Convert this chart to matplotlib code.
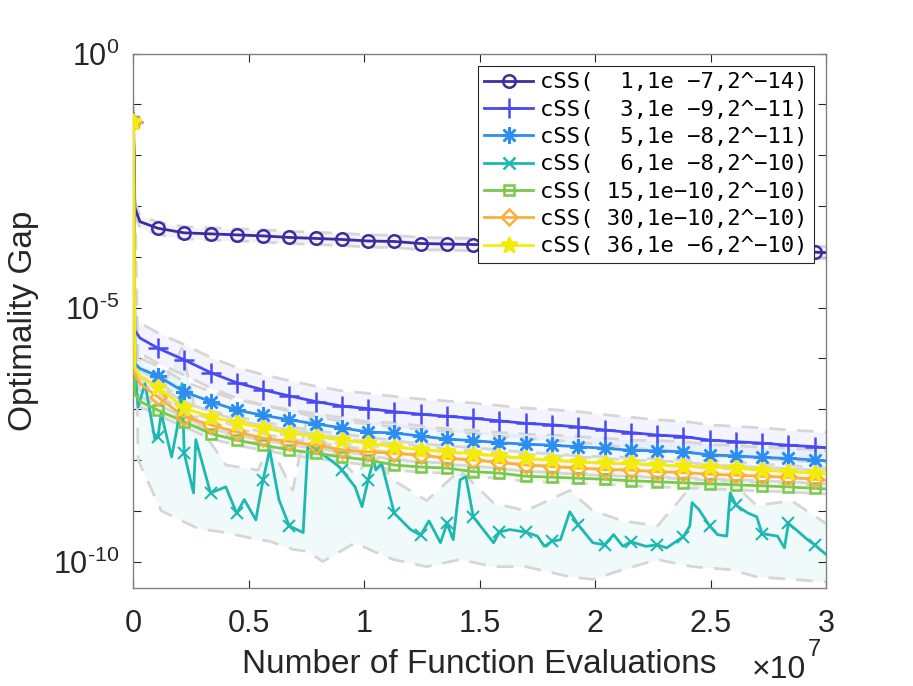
import matplotlib
matplotlib.use("Agg")
import matplotlib.pyplot as plt
from matplotlib.lines import Line2D
import numpy as np

plt.rcParams['font.family'] = ['Liberation Sans', 'DejaVu Sans']
plt.rcParams['mathtext.fontset'] = 'custom'
plt.rcParams['mathtext.rm'] = 'Liberation Sans'

# x in units of 1e7 function evaluations; y stored as log10 of the gap
x_head = [0, 0.006, 0.028]
x_mark = [0.106, 0.22, 0.334, 0.447, 0.561, 0.675, 0.789, 0.903, 1.016, 1.13,
          1.244, 1.358, 1.472, 1.585, 1.699, 1.813, 1.927, 2.041, 2.154, 2.268,
          2.382, 2.496, 2.61, 2.723, 2.837, 2.951]
x_tail = [3.0]

labels = ["cSS(  1,1e \u22127,2^\u221214)", "cSS(  3,1e \u22129,2^\u221211)",
          "cSS(  5,1e \u22128,2^\u221211)", "cSS(  6,1e \u22128,2^\u221210)",
          "cSS( 15,1e\u221210,2^\u221210)", "cSS( 30,1e\u221210,2^\u221210)",
          "cSS( 36,1e \u22126,2^\u221210)"]

s1 = [-1.35, -3.04, -3.31,
      -3.44, -3.53, -3.55, -3.57, -3.59, -3.62, -3.64, -3.66, -3.69, -3.70, -3.74, -3.75, -3.76,
      -3.77, -3.78, -3.79, -3.80, -3.81, -3.83, -3.84, -3.85, -3.86, -3.87, -3.88, -3.89, -3.91,
      -3.92]
s2 = [-1.35, -5.45, -5.6,
      -5.8, -6.03, -6.28, -6.48, -6.62, -6.74, -6.85, -6.94, -6.99, -7.05, -7.1, -7.14, -7.18,
      -7.23, -7.28, -7.31, -7.35, -7.41, -7.46, -7.51, -7.54, -7.61, -7.64, -7.67, -7.71, -7.74,
      -7.76]
s3 = [-1.35, -6.1, -6.2,
      -6.35, -6.66, -6.85, -7.02, -7.12, -7.21, -7.29, -7.37, -7.45, -7.47, -7.53, -7.59, -7.62,
      -7.66, -7.69, -7.71, -7.74, -7.77, -7.81, -7.82, -7.84, -7.9, -7.92, -7.95, -7.97, -8.0,
      -8.02]
s5 = [-1.35, -6.7, -6.85,
      -7.02, -7.25, -7.48, -7.61, -7.71, -7.8, -7.87, -7.94, -8.0, -8.1, -8.14, -8.16, -8.23,
      -8.26, -8.32, -8.34, -8.36, -8.38, -8.41, -8.43, -8.45, -8.47, -8.49, -8.51, -8.53, -8.56,
      -8.57]
s6 = [-1.35, -6.3, -6.5,
      -6.76, -7.15, -7.31, -7.45, -7.57, -7.64, -7.71, -7.8, -7.84, -7.87, -7.9, -7.97, -8.0,
      -8.05, -8.1, -8.13, -8.16, -8.19, -8.2, -8.23, -8.25, -8.28, -8.3, -8.32, -8.34, -8.38,
      -8.4]
s7 = [-1.35, -6.2, -6.35,
      -6.56, -6.98, -7.15, -7.27, -7.37, -7.47, -7.54, -7.61, -7.67, -7.74, -7.8, -7.84, -7.88,
      -7.92, -7.97, -8.0, -8.04, -8.06, -8.07, -8.1, -8.12, -8.14, -8.16, -8.2, -8.23, -8.26,
      -8.28]

# band half widths (decades above / below the mean curve)
band_up = [0.12, 0.3, 0.2, None, 0.1, 0.12, 0.12]
band_dn = [0.12, 0.3, 0.2, None, 0.1, 0.12, 0.12]

# noisy run (teal)
teal_x = [0, 0.006, 0.02, 0.05, 0.093, 0.106, 0.12, 0.165, 0.19, 0.21, 0.22, 0.26, 0.27, 0.31,
          0.334, 0.4, 0.447, 0.48, 0.53, 0.561, 0.59, 0.63, 0.675, 0.735, 0.755, 0.789,
          0.815, 0.89, 0.903, 0.96, 0.99, 1.016, 1.04, 1.05, 1.075, 1.13, 1.2, 1.244, 1.28,
          1.33, 1.358, 1.385, 1.415, 1.44, 1.472, 1.515, 1.56, 1.585, 1.63, 1.699, 1.75, 1.78,
          1.813, 1.85, 1.89, 1.927, 1.99, 2.041, 2.08, 2.12, 2.154, 2.22, 2.268, 2.31, 2.382,
          2.41, 2.42, 2.45, 2.496, 2.53, 2.57, 2.585, 2.61, 2.66, 2.7, 2.723, 2.79, 2.82,
          2.837, 2.87, 2.92, 2.951, 3.0]
teal_y = [-1.35, -6.2, -6.96, -6.5, -7.6, -7.55, -7.08, -7.94, -7.35, -6.5, -7.87, -8.65, -7.6,
          -8.26, -8.65, -8.53, -9.05, -8.78, -9.18, -8.4, -7.8, -8.78, -9.3, -9.43, -7.75, -7.8,
          -7.87, -8.13, -8.2, -8.53, -8.92, -8.4, -8.0, -8.2, -8.07, -9.05, -9.37, -9.48, -9.2,
          -9.63, -9.25, -9.57, -8.39, -8.33, -9.12, -9.37, -9.63, -9.42, -9.37, -9.42, -9.5, -9.7,
          -9.6, -9.57, -9.02, -9.28, -9.63, -9.67, -9.47, -9.7, -9.61, -9.7, -9.67, -9.73, -9.51,
          -9.3, -8.84, -8.98, -9.3, -9.47, -9.5, -8.65, -8.89, -9.04, -9.12, -9.45, -9.5, -9.73,
          -9.25, -9.37, -9.57, -9.67, -9.86]
teal_bx = [0, 0.02, 0.12, 0.21, 0.28, 0.4, 0.54, 0.59, 0.69, 0.755, 0.82, 0.96, 1.04, 1.125,
           1.27, 1.415, 1.56, 1.7, 1.89, 1.99, 2.12, 2.27, 2.42, 2.585, 2.7, 2.85, 3.0]
teal_hi = [-1.35, -6.0, -6.6, -5.8, -7.3, -8.1, -8.2, -7.7, -8.6, -7.1, -7.6, -8.3, -7.9, -8.4,
           -8.8, -8.2, -8.85, -9.0, -8.6, -9.0, -9.2, -9.3, -8.5, -8.4, -8.9, -8.8, -9.25]
teal_lo = [-1.35, -8.0, -9.0, -9.2, -9.35, -9.43, -9.57, -9.6, -9.76, -9.8, -10.0, -9.63, -9.8,
           -9.96, -10.1, -9.96, -10.1, -10.1, -10.3, -10.35, -10.16, -9.96, -10.1, -10.16,
           -10.3, -10.35, -10.4]

colors = ['#3d2ba1', '#4a4af2', '#2b8ef0', '#1eb8b2', '#79c94c', '#fbb03b', '#f3ec0a']
markers = ['o', '+', (8, 2, 0), 'x', 's', 'D', '*']
msizes = [9, 14, 12, 9, 7, 8, 12]
smooth = [s1, s2, s3, None, s5, s6, s7]

band_gray = '#d6d6d6'
fig = plt.figure(figsize=(9.13, 6.86), dpi=100)
ax = fig.add_axes([0.1462, 0.1429, 0.7585, 0.7791])

xs = np.array(x_head + x_mark + x_tail)
mark_idx = [0] + list(range(len(x_head), len(x_head) + len(x_mark)))

# shaded bands first
for k, s in enumerate(smooth):
    if s is None:
        bx = np.array(teal_bx)
        lo = 10 ** np.array(teal_lo)
        hi = 10 ** np.array(teal_hi)
    else:
        bx = xs
        v = np.array(s)
        lo = 10 ** (v - band_dn[k])
        hi = 10 ** (v + band_up[k])
    ax.fill_between(bx, lo, hi, color=colors[k], alpha=0.06, lw=0, zorder=1)
    ax.plot(bx, lo, color=band_gray, lw=2, dashes=(6, 4), zorder=2)
    ax.plot(bx, hi, color=band_gray, lw=2, dashes=(6, 4), zorder=2)

# mean curves
mark_set = set(x_mark) | {0}
teal_idx = [i for i, x in enumerate(teal_x) if x in mark_set]
for k, s in enumerate(smooth):
    filled = markers[k] == '*'
    if s is None:
        ax.plot(teal_x, 10 ** np.array(teal_y), color=colors[k], lw=2, marker=markers[k],
                ms=msizes[k], mew=1.5, markevery=teal_idx, zorder=3)
    else:
        ax.plot(xs, 10 ** np.array(s), color=colors[k], lw=2, marker=markers[k],
                ms=msizes[k], mew=1.8, markevery=mark_idx,
                mfc=colors[k] if filled else 'none', zorder=3 + k * 0.1)

ax.set_yscale('log')
ax.set_xlim(0, 3)
ax.set_ylim(10 ** -10.52, 1)
ax.set_xticks([0, 0.5, 1, 1.5, 2, 2.5, 3])
ax.set_xticklabels(['0', '0.5', '1', '1.5', '2', '2.5', '3'])
ax.set_yticks([10.0 ** e for e in range(-10, 1)])
ax.set_yticklabels([r'$10^{\text{%d}}$' % e if e % 5 == 0 else '' for e in range(-10, 1)])
ax.yaxis.set_minor_locator(matplotlib.ticker.NullLocator())
ax.tick_params(which='both', direction='in', length=6, width=0.8, color='#262626',
               top=True, right=True, labelsize=22, labelcolor='#262626', pad=10)
ax.tick_params(axis='x', pad=15)
for sp in ax.spines.values():
    sp.set_color('#808080')
    sp.set_linewidth(1)

ax.set_xlabel('Number of Function Evaluations', fontsize=24, color='#262626', labelpad=7)
ax.set_ylabel('Optimality Gap', fontsize=24, color='#262626', labelpad=10)
# axis multiplier, drawn like MATLAB's exponent label
ax.text(0.893, -0.168, '\u00d710', transform=ax.transAxes, fontsize=23,
        color='#262626', ha='left', va='baseline')
ax.text(0.974, -0.128, '7', transform=ax.transAxes, fontsize=17,
        color='#262626', ha='left', va='baseline')

handles = []
for k in range(7):
    handles.append(Line2D([], [], color=colors[k], lw=2, marker=markers[k], ms=msizes[k],
                          mew=1.8, mfc=colors[k] if markers[k] == '*' else 'none'))
leg = ax.legend(handles, labels, loc='upper right', bbox_to_anchor=(0.983, 0.977),
                prop={'family': 'DejaVu Sans Mono', 'size': 16}, frameon=True,
                fancybox=False, edgecolor='#262626', framealpha=1, handlelength=2.2,
                handletextpad=0.3, labelspacing=0.33, borderpad=0.3, borderaxespad=0)
leg.get_frame().set_linewidth(0.8)
leg.set_zorder(10)

fig.savefig('out.png', dpi=100)
